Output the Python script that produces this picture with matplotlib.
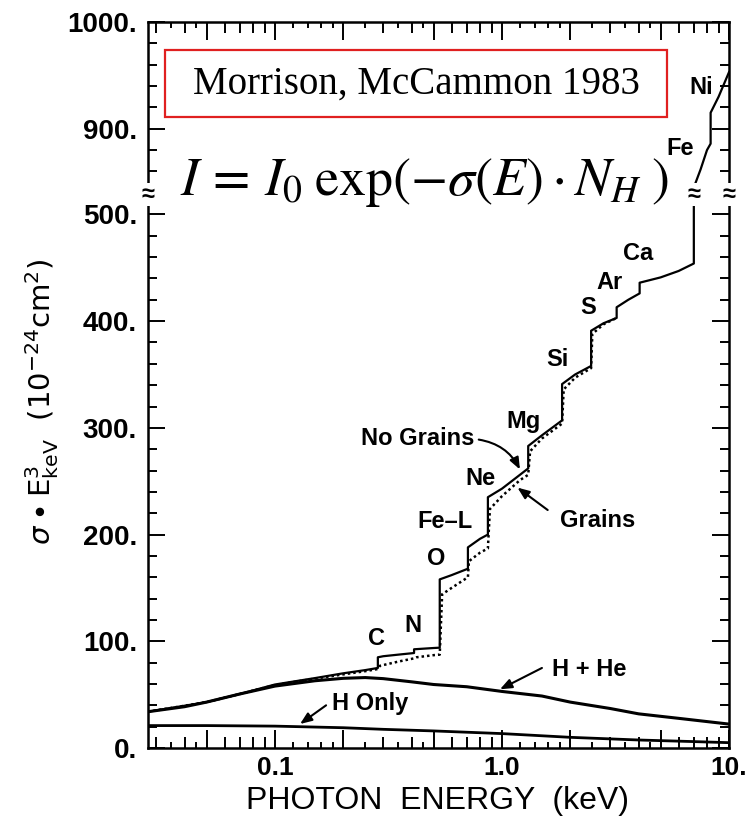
import numpy as np
import matplotlib
matplotlib.use("Agg")
import matplotlib.pyplot as plt
from matplotlib.patches import Rectangle

plt.rcParams['font.family'] = ['Liberation Sans', 'DejaVu Sans']

# photoelectric cross section x E^3, units of 1e-24 cm^2
hhe_e = [0.0276, 0.04, 0.05, 0.07, 0.1, 0.15, 0.2, 0.25, 0.3, 0.4, 0.5, 0.7,
         1.0, 1.5, 2.0, 3.0, 4.0, 6.0, 10.0]
hhe_v = [34, 38.7, 43, 50.6, 58, 63, 65.3, 66, 65, 62, 59.5, 57.4,
         53, 48.7, 43, 37, 32, 27.8, 22.4]

h_e = [0.0276, 0.05, 0.1, 0.2, 0.3, 0.5, 1.0, 2.0, 4.0, 7.0, 10.0]
h_v = [21, 21, 20.5, 19, 17.5, 16, 13.5, 10, 7.5, 6, 5]

# total, no grains (edges appear as repeated energies)
tot_e = [0.0276, 0.05, 0.07, 0.1, 0.15, 0.2, 0.25, 0.284, 0.284, 0.3, 0.35, 0.41, 0.41,
         0.5, 0.532, 0.532, 0.6, 0.708, 0.708, 0.8, 0.867, 0.867, 1.0, 1.2, 1.305, 1.305,
         1.5, 1.84, 1.84, 2.1, 2.47, 2.47, 2.8, 3.2, 3.2, 3.6, 4.04, 4.04, 5.0, 6.0,
         7.0, 7.0, 7.5, 8.0, 8.3, 8.3, 9.0, 10.0]
tot_v = [34, 43, 50.6, 59.5, 65.5, 70, 73, 75, 85, 86, 87.5, 89, 92.5,
         93.7, 94, 158, 162, 168, 188, 196, 200, 235, 243, 256, 262, 283,
         293, 307, 341, 350, 358, 391, 398, 403, 413, 420, 426, 436, 441, 447,
         454, 845, 862, 880, 886, 915, 930, 953]

# total with grains
gr_e = [0.0276, 0.05, 0.07, 0.1, 0.15, 0.2, 0.25, 0.284, 0.29, 0.35, 0.41, 0.42,
        0.5, 0.532, 0.545, 0.6, 0.708, 0.715, 0.8, 0.867, 0.885, 1.0, 1.2, 1.305, 1.33,
        1.5, 1.84, 1.87, 2.1, 2.47, 2.5, 2.8, 3.2]
gr_v = [34, 43, 50.6, 59, 65, 69, 72, 74, 77, 81, 84, 85,
        87, 87.5, 144, 150, 160, 175, 183, 187, 224, 236, 251, 256, 278,
        290, 304, 336, 347, 356, 388, 397, 403]

edge_names = ['C', 'N', 'O', 'Fe\u2013L', 'Ne', 'Mg', 'Si', 'S', 'Ar', 'Ca', 'Fe', 'Ni']
edge_lab_e = [0.281, 0.405, 0.512, 0.561, 0.80, 1.25, 1.75, 2.39, 2.99, 3.97, 6.08, 7.53]
edge_lab_v = [103, 115, 178, 212, 253, 306, 364, 413, 436, 463, 881, 939]

ytick_vals = [0, 100, 200, 300, 400, 500, 900, 1000]
ytick_text = ['0.', '100.', '200.', '300.', '400.', '500.', '900.', '1000.']
ytick_minor = [v for v in range(20, 500, 20) if v % 100] + [860, 880, 920, 940, 960, 980]

xtick_long = [0.05, 0.1, 0.2, 0.5, 1.0, 2.0, 5.0, 10.0]
xtick_text = ['', '0.1', '', '', '1.0', '', '', '10.']
xtick_mid = [0.03, 0.04, 0.06, 0.07, 0.08, 0.09, 0.3, 0.4, 0.6, 0.7, 0.8, 0.9,
             3, 4, 6, 7, 8, 9]
xtick_short = [0.035, 0.045, 0.12, 0.14, 0.16, 0.18, 0.25, 0.35, 0.45,
               1.2, 1.4, 1.6, 1.8, 2.5, 3.5, 4.5]

# broken y axis: 520..840 squeezed to nothing
BLO, BHI, BW = 520.0, 840.0, 0.3


def fwd(y):
    y = np.asarray(y, dtype=float)
    return np.where(y <= BLO, y,
                    np.where(y >= BHI, y - (BHI - BLO) + BW,
                             BLO + (y - BLO) * BW / (BHI - BLO)))


def inv(z):
    z = np.asarray(z, dtype=float)
    return np.where(z <= BLO, z,
                    np.where(z >= BLO + BW, z + (BHI - BLO) - BW,
                             BLO + (z - BLO) * (BHI - BLO) / BW))


fig = plt.figure(figsize=(7.5, 8.17), dpi=100)
ax = fig.add_axes([148 / 750, 69 / 817, 581 / 750, 726 / 817])
ax.set_xscale('log')
ax.set_yscale('function', functions=(fwd, inv))
ax.set_xlim(0.0276, 10)
ax.set_ylim(0, 1000)

ax.plot(hhe_e, hhe_v, color='black', lw=2.2)
ax.plot(h_e, h_v, color='black', lw=2.0)
ax.plot(tot_e, tot_v, color='black', lw=1.6)
ax.plot(gr_e, gr_v, color='black', lw=1.8, ls=(0, (1, 1.2)))

for sp in ax.spines.values():
    sp.set_linewidth(1.8)

ax.set_yticks(ytick_vals)
ax.set_yticklabels(ytick_text)
ax.set_yticks(ytick_minor, minor=True)
ax.set_xticks(xtick_long)
ax.set_xticklabels(xtick_text)
ax.set_xticks(xtick_mid, minor=True)
ax.xaxis.set_minor_formatter(matplotlib.ticker.NullFormatter())
ax.tick_params(which='both', direction='in', top=True, right=True, width=1.4)
ax.tick_params(axis='y', which='major', length=12, pad=8, labelsize=20)
ax.tick_params(axis='y', which='minor', length=6.5)
ax.tick_params(axis='x', which='major', length=13, pad=6, labelsize=19)
ax.tick_params(axis='x', which='minor', length=8)
for lab in ax.get_xticklabels() + ax.get_yticklabels():
    lab.set_fontweight('bold')

# shortest ticks on the log axis
xt = ax.get_xaxis_transform()
ax.plot(xtick_short, [0] * len(xtick_short), transform=xt, ls='none', marker=2,
        ms=4, mew=1.4, color='black', clip_on=False)
ax.plot(xtick_short, [1] * len(xtick_short), transform=xt, ls='none', marker=3,
        ms=4, mew=1.4, color='black', clip_on=False)

# break marks
yt = ax.get_yaxis_transform()
brk = dict(fontsize=17, fontweight='bold', ha='center', va='center',
           bbox=dict(facecolor='white', edgecolor='none', pad=0))
ax.text(0, 519, '\u2248', transform=yt, **brk)
ax.text(1, 519, '\u2248', transform=yt, **brk)
ax.text(7.0, 519, '\u2248', **brk)

lab_kw = dict(fontsize=17, fontweight='bold', ha='center', va='center')
for name, e, v in zip(edge_names, edge_lab_e, edge_lab_v):
    ax.text(e, v, name, **lab_kw)

arr = dict(arrowstyle='-|>,head_length=0.7,head_width=0.28', color='black', lw=1.5,
           shrinkA=0, shrinkB=0)
ax.text(0.425, 290, 'No Grains', **lab_kw)
ax.annotate('', xy=(1.2, 261), xytext=(0.79, 289),
            arrowprops=dict(connectionstyle='arc3,rad=-0.25', **arr))
ax.text(2.65, 213, 'Grains', **lab_kw)
ax.annotate('', xy=(1.17, 244), xytext=(1.59, 223), arrowprops=arr)
ax.text(2.42, 74, 'H + He', **lab_kw)
ax.annotate('', xy=(0.98, 55), xytext=(1.5, 75), arrowprops=arr)
ax.text(0.262, 42, 'H Only', **lab_kw)
ax.annotate('', xy=(0.129, 22.5), xytext=(0.168, 40), arrowprops=arr)

fig.text(438 / 750, 1 - 801 / 817, 'PHOTON  ENERGY  (keV)', fontsize=23,
         ha='center', va='center')
fig.text(42 / 750, 1 - 402 / 817,
         r'$\sigma\bullet\mathrm{E}^{3}_{\mathrm{keV}}\ \ (10^{-24}\mathrm{cm}^{2})$',
         fontsize=21, rotation=90, ha='center', va='center',
         math_fontfamily='dejavusans')

fig.patches.append(Rectangle((165 / 750, 1 - 117 / 817), 502 / 750, 67 / 817,
                             transform=fig.transFigure, fill=False,
                             edgecolor='#e02020', lw=1.6))
fig.text(416 / 750, 1 - 84 / 817, 'Morrison, McCammon 1983', fontsize=28,
         family='Liberation Serif', ha='center', va='center')
fig.text(180 / 750, 1 - 195 / 817,
         r'$I\, =\, I_0\;\exp(-\sigma(E)\cdot N_H\;)$',
         fontsize=39, ha='left', va='baseline', math_fontfamily='stix')

fig.savefig('out.png', dpi=100)
